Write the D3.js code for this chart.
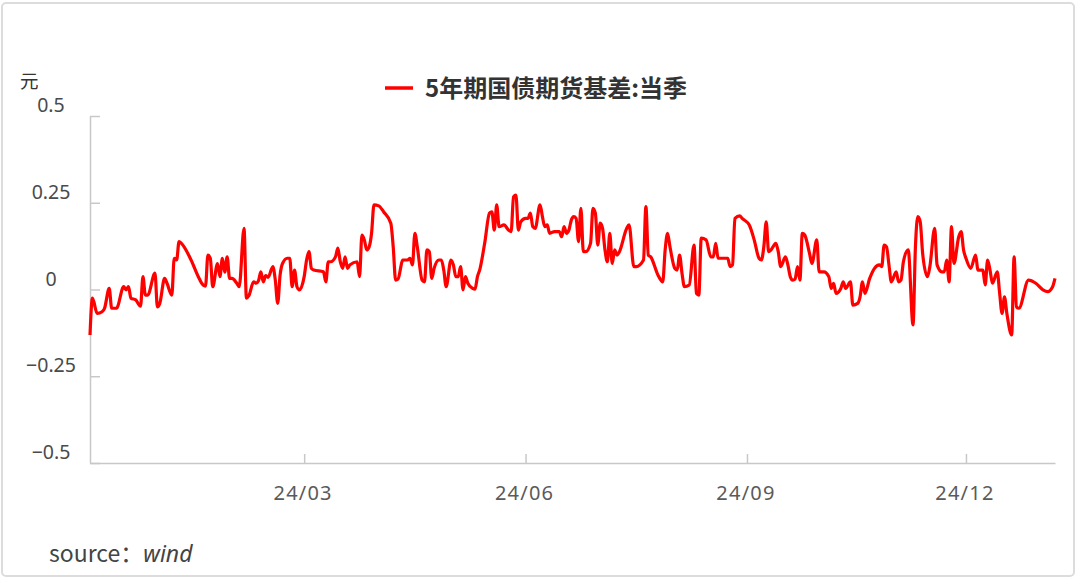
<!DOCTYPE html>
<html>
<head>
<meta charset="utf-8">
<script src="https://cdn.jsdelivr.net/npm/d3@7/dist/d3.min.js"></script>
<style>
  html, body { margin: 0; padding: 0; background: #fff; }
  svg { display: block; font-family: "Noto Sans", "Noto Sans CJK SC", sans-serif; }
</style>
</head>
<body>
<svg id="plot"></svg>
<script>
// 5年期国债期货基差:当季 (元)
const seriesName = "5年期国债期货基差:当季";
const unitLabel = "元";
const sourceLabel = "source：";
const sourceName = "wind";

const dates = [
  "2023-12-03","2023-12-04","2023-12-06","2023-12-08","2023-12-09","2023-12-11","2023-12-12","2023-12-14",
  "2023-12-17","2023-12-18","2023-12-19","2023-12-20","2023-12-22","2023-12-24","2023-12-25","2023-12-26",
  "2023-12-27","2023-12-30","2023-12-31","2024-01-01","2024-01-03","2024-01-04","2024-01-06","2024-01-07",
  "2024-01-08","2024-01-09","2024-01-10","2024-01-14","2024-01-17","2024-01-19","2024-01-20","2024-01-21",
  "2024-01-22","2024-01-23","2024-01-25","2024-01-26","2024-01-27","2024-01-28","2024-01-29","2024-01-30",
  "2024-01-31","2024-02-02","2024-02-03","2024-02-05","2024-02-06","2024-02-07","2024-02-09","2024-02-10",
  "2024-02-11","2024-02-12","2024-02-13","2024-02-14","2024-02-15","2024-02-17","2024-02-18","2024-02-19",
  "2024-02-20","2024-02-21","2024-02-23","2024-02-24","2024-02-25","2024-02-26","2024-02-27","2024-02-28",
  "2024-03-01","2024-03-02","2024-03-03","2024-03-04","2024-03-05","2024-03-09","2024-03-10","2024-03-11",
  "2024-03-12","2024-03-14","2024-03-15","2024-03-16","2024-03-17","2024-03-18","2024-03-19","2024-03-20",
  "2024-03-23","2024-03-24","2024-03-25","2024-03-26","2024-03-27","2024-03-28","2024-03-29","2024-03-30",
  "2024-04-01","2024-04-03","2024-04-06","2024-04-07","2024-04-08","2024-04-09","2024-04-11","2024-04-13",
  "2024-04-14","2024-04-15","2024-04-16","2024-04-17","2024-04-19","2024-04-20","2024-04-21","2024-04-22",
  "2024-04-23","2024-04-24","2024-04-26","2024-04-27","2024-04-28","2024-04-29","2024-05-01","2024-05-02",
  "2024-05-03","2024-05-04","2024-05-05","2024-05-06","2024-05-07","2024-05-08","2024-05-10","2024-05-11",
  "2024-05-12","2024-05-13","2024-05-15","2024-05-17","2024-05-18","2024-05-19","2024-05-20","2024-05-21",
  "2024-05-23","2024-05-25","2024-05-26","2024-05-27","2024-05-28","2024-05-29","2024-05-30","2024-06-01",
  "2024-06-02","2024-06-03","2024-06-04","2024-06-05","2024-06-07","2024-06-08","2024-06-09","2024-06-10",
  "2024-06-11","2024-06-13","2024-06-15","2024-06-16","2024-06-17","2024-06-18","2024-06-19","2024-06-20",
  "2024-06-21","2024-06-22","2024-06-23","2024-06-24","2024-06-25","2024-06-26","2024-06-28","2024-06-29",
  "2024-06-30","2024-07-01","2024-07-02","2024-07-03","2024-07-04","2024-07-05","2024-07-06","2024-07-07",
  "2024-07-08","2024-07-09","2024-07-10","2024-07-13","2024-07-14","2024-07-16","2024-07-17","2024-07-20",
  "2024-07-21","2024-07-22","2024-07-23","2024-07-26","2024-07-28","2024-07-29","2024-07-30","2024-07-31",
  "2024-08-02","2024-08-03","2024-08-04","2024-08-05","2024-08-06","2024-08-08","2024-08-10","2024-08-11",
  "2024-08-12","2024-08-13","2024-08-15","2024-08-17","2024-08-18","2024-08-19","2024-08-20","2024-08-24",
  "2024-08-25","2024-08-26","2024-08-27","2024-08-29","2024-08-30","2024-09-02","2024-09-04","2024-09-06",
  "2024-09-07","2024-09-08","2024-09-09","2024-09-10","2024-09-11","2024-09-13","2024-09-14","2024-09-15",
  "2024-09-17","2024-09-18","2024-09-19","2024-09-20","2024-09-21","2024-09-22","2024-09-23","2024-09-24",
  "2024-09-25","2024-09-27","2024-09-28","2024-09-30","2024-10-01","2024-10-03","2024-10-05","2024-10-06",
  "2024-10-07","2024-10-08","2024-10-10","2024-10-11","2024-10-12","2024-10-14","2024-10-15","2024-10-17",
  "2024-10-18","2024-10-19","2024-10-20","2024-10-22","2024-10-24","2024-10-26","2024-10-27","2024-10-28",
  "2024-10-29","2024-10-30","2024-10-31","2024-11-02","2024-11-03","2024-11-04","2024-11-05","2024-11-07",
  "2024-11-09","2024-11-10","2024-11-11","2024-11-12","2024-11-13","2024-11-15","2024-11-16","2024-11-18",
  "2024-11-19","2024-11-21","2024-11-22","2024-11-23","2024-11-24","2024-11-25","2024-11-26","2024-11-28",
  "2024-11-29","2024-11-30","2024-12-01","2024-12-03","2024-12-05","2024-12-06","2024-12-08","2024-12-09",
  "2024-12-10","2024-12-11","2024-12-12","2024-12-14","2024-12-15","2024-12-16","2024-12-17","2024-12-18",
  "2024-12-20","2024-12-21","2024-12-22","2024-12-23","2024-12-27","2024-12-30","2025-01-02","2025-01-04",
  "2025-01-06","2025-01-07"
];

const basis = [
  -0.131,-0.025,-0.069,-0.064,-0.055,0.003,-0.054,-0.054,
  0.008,-0.001,0.008,-0.025,-0.030,-0.048,0.037,-0.016,
  -0.016,0.047,-0.050,-0.040,0.032,0.018,-0.016,0.090,
  0.085,0.138,0.133,0.085,0.037,0.013,0.010,0.099,
  0.090,0.008,0.075,0.037,0.090,0.050,0.094,0.032,
  0.032,0.018,0.008,0.176,-0.025,-0.018,0.022,0.018,
  0.025,0.051,0.022,0.040,0.035,0.066,0.027,-0.040,
  0.042,0.075,0.090,0.090,0.008,0.056,0.008,-0.001,
  0.037,0.085,0.109,0.061,0.056,0.051,0.022,0.080,
  0.080,0.094,0.119,0.080,0.061,0.094,0.061,0.071,
  0.080,0.037,0.157,0.143,0.114,0.123,0.162,0.244,
  0.241,0.224,0.191,0.123,0.027,0.030,0.085,0.085,
  0.090,0.071,0.162,0.123,0.027,0.022,0.114,0.109,
  0.032,0.061,0.085,0.085,0.056,0.008,0.085,0.071,
  0.037,0.037,0.066,-0.001,0.037,0.018,0.003,0.001,
  0.037,0.058,0.133,0.220,0.224,0.171,0.244,0.181,
  0.186,0.171,0.167,0.267,0.272,0.171,0.195,0.205,
  0.205,0.220,0.181,0.176,0.244,0.210,0.181,0.186,
  0.162,0.167,0.167,0.152,0.181,0.162,0.171,0.200,
  0.210,0.205,0.138,0.234,0.109,0.109,0.133,0.234,
  0.220,0.128,0.191,0.176,0.114,0.080,0.162,0.075,
  0.114,0.099,0.109,0.176,0.186,0.066,0.066,0.085,
  0.239,0.099,0.094,0.042,0.022,0.114,0.162,0.123,
  0.061,0.056,0.099,0.047,0.008,0.013,0.128,-0.011,
  -0.016,0.148,0.143,0.094,0.094,0.133,0.090,0.090,
  0.066,0.071,0.205,0.212,0.205,0.185,0.143,0.090,
  0.085,0.123,0.195,0.109,0.114,0.133,0.109,0.066,
  0.094,0.071,0.037,0.027,0.030,0.066,0.027,0.162,
  0.157,0.104,0.075,0.143,0.051,0.051,0.037,0.003,
  0.018,-0.011,0.003,0.022,0.003,0.022,-0.045,-0.040,
  -0.021,0.022,-0.011,0.032,0.061,0.071,0.066,0.128,
  0.123,0.071,0.022,0.051,0.022,0.027,0.080,0.114,
  -0.102,0.123,0.210,0.195,0.104,0.037,0.066,0.176,
  0.071,0.051,0.051,0.085,0.022,0.181,0.075,0.152,
  0.167,0.114,0.090,0.061,0.099,0.056,0.056,0.013,
  0.085,0.056,0.018,0.051,-0.011,-0.069,-0.021,-0.069,
  -0.131,0.094,-0.050,-0.054,0.027,0.018,-0.001,-0.006,
  0.008,0.032
];

const yTicks = [0.5, 0.25, 0, -0.25, -0.5];
const yTickLabels = ["0.5", "0.25", "0", "\u22120.25", "\u22120.5"];
const xTicks = ["2024-03-01", "2024-06-01", "2024-09-01", "2024-12-01"];

const W = 1077, H = 578;
const margin = { top: 116, right: 22, bottom: 115, left: 90 };

const parse = d3.timeParse("%Y-%m-%d");
const data = dates.map((d, i) => ({ date: parse(d), value: basis[i] }));

const svg = d3.select("#plot").attr("width", W).attr("height", H);

// card frame
svg.append("rect")
  .attr("x", 2).attr("y", 3)
  .attr("width", W - 5).attr("height", H - 5)
  .attr("rx", 4)
  .attr("fill", "#fff")
  .attr("stroke", "#dcdcdc")
  .attr("stroke-width", 2);

const x = d3.scaleTime()
  .domain(d3.extent(data, (d) => d.date))
  .range([margin.left, W - margin.right]);

const y = d3.scaleLinear()
  .domain([-0.5, 0.5])
  .range([H - margin.bottom, margin.top]);

// y axis (ticks pointing inward, labels centred above each tick)
const yAxis = svg.append("g")
  .attr("transform", `translate(${margin.left},0)`)
  .call(d3.axisRight(y).tickValues(yTicks).tickSize(10).tickSizeOuter(0).tickFormat(""));
yAxis.select(".domain").attr("stroke", "#c8c8c8").attr("stroke-width", 1.5);
yAxis.selectAll(".tick line").attr("stroke", "#c8c8c8").attr("stroke-width", 1.5);

svg.append("g")
  .selectAll("text")
  .data(yTicks)
  .enter()
  .append("text")
  .attr("x", 51)
  .attr("y", (d) => y(d) - 4)
  .attr("text-anchor", "middle")
  .attr("font-size", 19.5)
  .attr("fill", "#4a4a4a")
  .text((d, i) => yTickLabels[i]);

// x axis
const xAxis = svg.append("g")
  .attr("transform", `translate(0,${H - margin.bottom})`)
  .call(
    d3.axisTop(x)
      .tickValues(xTicks.map(parse))
      .tickSize(9)
      .tickSizeOuter(0)
      .tickFormat(""),
  );
xAxis.select(".domain").attr("stroke", "#c8c8c8").attr("stroke-width", 1.5);
xAxis.selectAll(".tick line").attr("stroke", "#c8c8c8").attr("stroke-width", 1.5);

svg.append("g")
  .selectAll("text")
  .data(xTicks.map(parse))
  .enter()
  .append("text")
  .attr("x", (d) => x(d) - 1)
  .attr("y", H - margin.bottom + 37)
  .attr("text-anchor", "middle")
  .attr("font-size", 20)
  .attr("letter-spacing", 1.2)
  .attr("fill", "#5a5a5a")
  .text(d3.timeFormat("%y/%m"));

// series
const line = d3.line()
  .x((d) => x(d.date))
  .y((d) => y(d.value))
  .curve(d3.curveMonotoneX);

svg.append("path")
  .datum(data)
  .attr("fill", "none")
  .attr("stroke", "#ff0000")
  .attr("stroke-width", 3.2)
  .attr("stroke-linejoin", "round")
  .attr("d", line);

// unit
svg.append("text")
  .attr("x", 20).attr("y", 88)
  .attr("font-size", 18.5)
  .attr("font-family", "Noto Sans CJK SC")
  .attr("fill", "#333")
  .text(unitLabel);

// legend
svg.append("line")
  .attr("x1", 385).attr("x2", 413)
  .attr("y1", 88).attr("y2", 88)
  .attr("stroke", "#ff0000")
  .attr("stroke-width", 3.5);
svg.append("text")
  .attr("x", 425).attr("y", 97)
  .attr("font-size", 24)
  .attr("font-weight", "bold")
  .attr("font-family", "Noto Sans CJK SC")
  .attr("fill", "#333")
  .text(seriesName);

// source note
const src = svg.append("text")
  .attr("x", 49).attr("y", 562)
  .attr("font-size", 23)
  .attr("font-family", "Noto Sans CJK SC")
  .attr("fill", "#444");
src.append("tspan").text(sourceLabel);
src.append("tspan").attr("font-style", "italic").attr("font-family", "Noto Sans").text(sourceName);
</script>
</body>
</html>
